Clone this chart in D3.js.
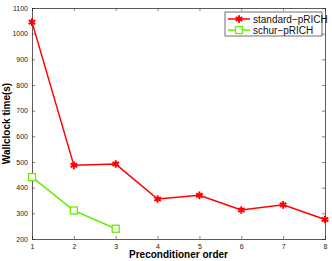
<!DOCTYPE html>
<html>
<head>
<meta charset="utf-8">
<script src="https://cdn.jsdelivr.net/npm/d3@7"></script>
<style>
  body { margin: 0; background: #fff; }
  svg { display: block; font-family: Arial, "Liberation Sans", sans-serif; }
</style>
</head>
<body>
<div id="chart"></div>
<script>
const orders = [1, 2, 3, 4, 5, 6, 7, 8];
const standardTimes = [1045, 487, 492, 356, 370, 313, 333, 276];
const schurOrders = [1, 2, 3];
const schurTimes = [441, 311, 240];
const yTicks = [200, 300, 400, 500, 600, 700, 800, 900, 1000, 1100];
const seriesNames = ['standard\u2212pRICH', 'schur\u2212pRICH'];

const W = 332, H = 261;
const margin = { top: 8, right: 7, bottom: 22, left: 32 };
const width = W - margin.left - margin.right;
const height = H - margin.top - margin.bottom;

const svg = d3.select('#chart').append('svg')
    .attr('width', W)
    .attr('height', H);
const g = svg.append('g')
    .attr('transform', 'translate(' + margin.left + ',' + margin.top + ')');

const x = d3.scaleLinear().domain([1, 8]).range([0, width]);
const y = d3.scaleLinear().domain([200, 1100]).range([height, 0]);

// Axes with inward ticks on all four sides
const axisColor = '#333';
const axBottom = g.append('g')
    .attr('transform', 'translate(0,' + height + ')')
    .call(d3.axisBottom(x).tickValues(orders).tickFormat(d3.format('d')).tickSize(-3).tickPadding(5));
const axLeft = g.append('g')
    .call(d3.axisLeft(y).tickValues(yTicks).tickFormat(d3.format('d')).tickSize(-3).tickPadding(4));
const axTop = g.append('g')
    .call(d3.axisTop(x).tickValues(orders).tickFormat('').tickSize(-3));
const axRight = g.append('g')
    .attr('transform', 'translate(' + width + ',0)')
    .call(d3.axisRight(y).tickValues(yTicks).tickFormat('').tickSize(-3));
[axBottom, axLeft, axTop, axRight].forEach(a => {
    a.select('.domain').attr('stroke', axisColor).attr('stroke-width', 0.8);
    a.selectAll('.tick line').attr('stroke', axisColor).attr('stroke-width', 0.6);
    a.selectAll('text').attr('fill', '#222').style('font-size', '7px');
});

// Lines
const line = d3.line().x(d => x(d[0])).y(d => y(d[1]));
const stdData = orders.map((o, i) => [o, standardTimes[i]]);
const schurData = schurOrders.map((o, i) => [o, schurTimes[i]]);

g.append('path').datum(stdData)
    .attr('d', line).attr('fill', 'none')
    .attr('stroke', '#ff0000').attr('stroke-width', 1.5);
g.append('path').datum(schurData)
    .attr('d', line).attr('fill', 'none')
    .attr('stroke', '#66ee00').attr('stroke-width', 1.5);

// Asterisk markers
const star = d3.symbol().type(d3.symbolAsterisk).size(40);
g.selectAll('.star').data(stdData).enter().append('path')
    .attr('class', 'star')
    .attr('d', star)
    .attr('transform', d => 'translate(' + x(d[0]) + ',' + y(d[1]) + ')')
    .attr('fill', 'none').attr('stroke', '#ff0000').attr('stroke-width', 2);

// Square markers
g.selectAll('.sq').data(schurData).enter().append('rect')
    .attr('class', 'sq')
    .attr('x', d => x(d[0]) - 3.5).attr('y', d => y(d[1]) - 3.5)
    .attr('width', 7).attr('height', 7)
    .attr('fill', '#fff').attr('stroke', '#66ee00').attr('stroke-width', 1.3);

// Axis titles
svg.append('text')
    .attr('x', margin.left + width / 2).attr('y', H - 3)
    .attr('text-anchor', 'middle')
    .style('font-size', '10px').style('font-weight', 'bold')
    .text('Preconditioner order');
svg.append('text')
    .attr('transform', 'translate(10,' + (margin.top + height / 2) + ') rotate(-90)')
    .attr('text-anchor', 'middle')
    .style('font-size', '10px').style('font-weight', 'bold')
    .text('Wallclock time(s)');

// Legend
const legend = svg.append('g').attr('transform', 'translate(225,12)');
legend.append('rect')
    .attr('width', 97).attr('height', 24)
    .attr('fill', '#fff').attr('stroke', axisColor).attr('stroke-width', 0.7);
const colors = ['#ff0000', '#66ee00'];
seriesNames.forEach((name, i) => {
    const ly = 7 + i * 11;
    legend.append('line')
        .attr('x1', 3).attr('x2', 25).attr('y1', ly).attr('y2', ly)
        .attr('stroke', colors[i]).attr('stroke-width', 1.5);
    if (i === 0) {
        legend.append('path').attr('d', star)
            .attr('transform', 'translate(14,' + ly + ')')
            .attr('fill', 'none').attr('stroke', colors[i]).attr('stroke-width', 2);
    } else {
        legend.append('rect')
            .attr('x', 10.5).attr('y', ly - 3.5).attr('width', 7).attr('height', 7)
            .attr('fill', '#fff').attr('stroke', colors[i]).attr('stroke-width', 1.3);
    }
    legend.append('text')
        .attr('x', 28).attr('y', ly + 3.5)
        .style('font-size', '10px').attr('fill', '#111')
        .text(name);
});
</script>
</body>
</html>
